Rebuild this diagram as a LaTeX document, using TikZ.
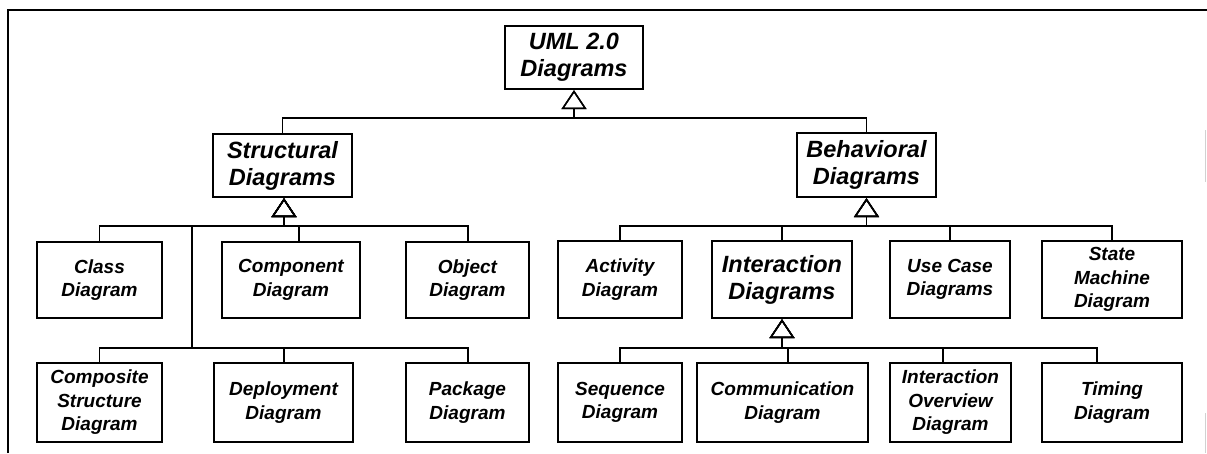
\documentclass[tikz,border=0pt]{standalone}
\usepackage{fontspec}
\setmainfont{Liberation Sans}
\usetikzlibrary{arrows.meta}
\newcommand\boxfontS{\fontsize{19}{23.5}\selectfont\bfseries\itshape}
\newcommand\boxfontL{\fontsize{23.5}{27}\selectfont\bfseries\itshape}
\begin{document}
\begin{tikzpicture}[x=1pt,y=-1pt,
  box/.style={draw, line width=2.3pt, inner sep=0pt, align=center, font=\boxfontS},
  bigbox/.style={box, font=\boxfontL},
  conn/.style={line width=1.5pt},
  gen/.style={conn, {Triangle[open,width=25pt,length=19pt,line width=1.5pt]}-},
  frame/.style={line width=2pt},
  scan/.style={line width=1pt, black!18}]
\useasboundingbox (0,0) rectangle (1207,453);
% frame
\coordinate (fa) at (8,453);
\coordinate (fb) at (8,10);
\coordinate (fc) at (1207,10);
\draw[frame] (fa) -- (fb) -- (fc);
\coordinate (sa) at (1205,130);
\coordinate (sb) at (1205,182);
\coordinate (sc) at (1205,413);
\coordinate (sd) at (1205,453);
\draw[scan] (sa) -- (sb);
\draw[scan] (sc) -- (sd);

% top level
\node[bigbox, minimum width=138pt, minimum height=63pt] (uml) at (574,57.5) {UML 2.0\\Diagrams};
\node[bigbox, minimum width=139pt, minimum height=63pt] (struct) at (282.5,165.5) {Structural\\Diagrams};
\node[bigbox, minimum width=139pt, minimum height=64pt] (behav) at (866.5,165) {Behavioral\\Diagrams};

% structural children
\node[box, minimum width=125pt, minimum height=76pt] (class) at (99.5,280) {Class\\Diagram};
\node[box, minimum width=138pt, minimum height=76pt] (comp) at (291,280) {Component\\Diagram};
\node[box, minimum width=123pt, minimum height=76pt] (object) at (467.5,280) {Object\\Diagram};
\node[box, minimum width=125pt, minimum height=79pt] (composite) at (99.5,402.5) {Composite\\Structure\\Diagram};
\node[box, minimum width=139pt, minimum height=79pt] (deploy) at (283.5,402.5) {Deployment\\Diagram};
\node[box, minimum width=123pt, minimum height=79pt] (package) at (467.5,402.5) {Package\\Diagram};

% behavioral children
\node[box, minimum width=124pt, minimum height=77pt] (activity) at (620,279.5) {Activity\\Diagram};
\node[bigbox, minimum width=140pt, minimum height=77pt] (inter) at (782,279.5) {Interaction\\Diagrams};
\node[box, minimum width=120pt, minimum height=77pt] (usecase) at (950,279.5) {Use Case\\Diagrams};
\node[box, minimum width=140pt, minimum height=77pt] (state) at (1112,279.5) {State\\Machine\\Diagram};

% interaction children
\node[box, minimum width=124pt, minimum height=79pt] (sequence) at (620,402.5) {Sequence\\Diagram};
\node[box, minimum width=171pt, minimum height=79pt] (comm) at (782.5,402.5) {Communication\\Diagram};
\node[box, minimum width=121pt, minimum height=79pt] (overview) at (950.5,402.5) {Interaction\\Overview\\Diagram};
\node[box, minimum width=140pt, minimum height=79pt] (timing) at (1112,402.5) {Timing\\Diagram};

% bus coordinates
\coordinate (bus0) at (0,118);
\coordinate (bus1) at (0,226);
\coordinate (bus2) at (0,348);
\coordinate (sj) at (192,226);
\coordinate (sj2) at (192,348);

% UML -> structural / behavioral
\draw[gen] (uml.south) -- (uml.south |- bus0) -| (struct.north);
\draw[gen] (uml.south) -- (uml.south |- bus0) -| (behav.north);

% structural -> first row
\draw[gen] ([xshift=1.5pt]struct.south) -- ([xshift=1.5pt]struct.south |- bus1) -| (class.north);
\draw[gen] ([xshift=1.5pt]struct.south) -- ([xshift=1.5pt]struct.south |- bus1) -| ([xshift=8pt]comp.north);
\draw[gen] ([xshift=1.5pt]struct.south) -- ([xshift=1.5pt]struct.south |- bus1) -| ([xshift=0.5pt]object.north);
% structural -> second row
\draw[gen] ([xshift=1.5pt]struct.south) -- ([xshift=1.5pt]struct.south |- bus1) -- (sj) -- (sj2) -| (composite.north);
\draw[gen] ([xshift=1.5pt]struct.south) -- ([xshift=1.5pt]struct.south |- bus1) -- (sj) -- (sj2) -| ([xshift=0.5pt]deploy.north);
\draw[gen] ([xshift=1.5pt]struct.south) -- ([xshift=1.5pt]struct.south |- bus1) -- (sj) -- (sj2) -| ([xshift=0.5pt]package.north);

% behavioral -> children
\draw[gen] (behav.south) -- (behav.south |- bus1) -| (activity.north);
\draw[gen] (behav.south) -- (behav.south |- bus1) -| (inter.north);
\draw[gen] (behav.south) -- (behav.south |- bus1) -| (usecase.north);
\draw[gen] (behav.south) -- (behav.south |- bus1) -| (state.north);

% interaction -> children
\draw[gen] (inter.south) -- (inter.south |- bus2) -| (sequence.north);
\draw[gen] (inter.south) -- (inter.south |- bus2) -| ([xshift=5.5pt]comm.north);
\draw[gen] (inter.south) -- (inter.south |- bus2) -| ([xshift=-7.5pt]overview.north);
\draw[gen] (inter.south) -- (inter.south |- bus2) -| ([xshift=-15pt]timing.north);
\end{tikzpicture}
\end{document}
